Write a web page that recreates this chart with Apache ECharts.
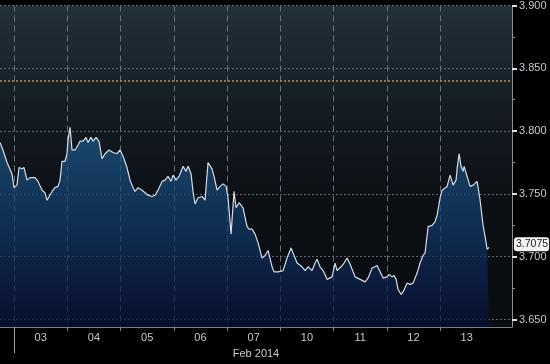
<!DOCTYPE html>
<html>
<head>
<meta charset="utf-8">
<script src="https://cdn.jsdelivr.net/npm/echarts@6/dist/echarts.min.js"></script>
<style>
html,body{margin:0;padding:0;background:#000;}
#chart{width:550px;height:364px;}
</style>
</head>
<body>
<div id="chart"></div>
<script>
// Trading-day position (0 = start of 03 Feb session) and exchange rate
const dayPos = [-0.263,-0.207,-0.131,-0.038,0.000,0.056,0.094,0.150,0.188,0.244,0.300,0.394,0.451,0.526,0.582,0.620,0.657,0.714,0.770,0.826,0.864,0.901,0.958,0.995,1.014,1.052,1.089,1.146,1.202,1.239,1.296,1.352,1.390,1.446,1.484,1.540,1.596,1.653,1.709,1.784,1.859,1.934,1.991,2.047,2.122,2.178,2.235,2.272,2.329,2.404,2.460,2.516,2.592,2.648,2.704,2.779,2.836,2.892,2.948,2.986,3.042,3.099,3.174,3.230,3.268,3.324,3.361,3.399,3.455,3.531,3.587,3.643,3.718,3.756,3.812,3.868,3.925,3.981,4.019,4.075,4.131,4.169,4.225,4.300,4.376,4.413,4.469,4.526,4.582,4.657,4.714,4.770,4.845,4.883,4.958,5.052,5.127,5.202,5.258,5.315,5.408,5.465,5.521,5.596,5.652,5.690,5.746,5.803,5.878,5.972,6.028,6.066,6.141,6.197,6.253,6.310,6.404,6.498,6.591,6.648,6.723,6.779,6.817,6.873,6.930,7.005,7.042,7.098,7.136,7.174,7.211,7.268,7.305,7.380,7.437,7.493,7.568,7.624,7.681,7.718,7.775,7.850,7.906,7.944,8.000,8.038,8.075,8.131,8.188,8.244,8.300,8.319,8.357,8.394,8.432,8.451,8.507,8.563,8.620,8.695,8.751,8.807,8.845,8.883,8.920];
const rate = [3.791,3.785,3.775,3.766,3.755,3.757,3.771,3.770,3.771,3.761,3.763,3.763,3.760,3.753,3.751,3.745,3.745,3.752,3.755,3.756,3.761,3.776,3.776,3.782,3.793,3.803,3.785,3.785,3.789,3.792,3.792,3.795,3.791,3.795,3.792,3.795,3.792,3.778,3.782,3.785,3.783,3.782,3.785,3.780,3.771,3.761,3.755,3.752,3.755,3.753,3.751,3.749,3.748,3.749,3.753,3.760,3.761,3.764,3.760,3.765,3.761,3.764,3.772,3.768,3.772,3.766,3.752,3.742,3.747,3.748,3.745,3.775,3.770,3.764,3.753,3.756,3.758,3.756,3.747,3.718,3.752,3.739,3.743,3.739,3.724,3.722,3.722,3.718,3.711,3.699,3.701,3.705,3.692,3.688,3.688,3.689,3.699,3.707,3.701,3.695,3.692,3.689,3.692,3.689,3.695,3.698,3.692,3.689,3.682,3.684,3.695,3.689,3.692,3.695,3.699,3.694,3.684,3.682,3.680,3.683,3.691,3.692,3.693,3.688,3.683,3.684,3.686,3.684,3.685,3.682,3.674,3.670,3.672,3.679,3.678,3.679,3.687,3.695,3.701,3.703,3.724,3.725,3.728,3.733,3.747,3.753,3.752,3.756,3.765,3.757,3.761,3.770,3.782,3.772,3.768,3.772,3.764,3.756,3.757,3.760,3.745,3.725,3.716,3.706,3.7075];

const dayLabels = ['03','04','05','06','07','10','11','12','13'];
const dayBounds = [0,1,2,3,4,5,6,7,8];
const dayCenters = [0.5,1.5,2.5,3.5,4.5,5.5,6.5,7.5,8.5];
const yTicks = [3.65,3.70,3.75,3.80,3.85,3.90];
const yMinorTicks = [3.675,3.725,3.775,3.825,3.875];
const refLevel = 3.84;
const lastPrice = 3.7075;
const periodLabel = 'Feb 2014';

const points = dayPos.map((d,i)=>[d, rate[i]]);
const xMin = -0.263, xMax = 9.35, yMin = 3.644, yMax = 3.9;
const font = 'Liberation Sans';

const chart = echarts.init(document.getElementById('chart'), null, {renderer:'canvas'});
chart.setOption({
  backgroundColor:'#000',
  animation:false,
  grid:{left:0,right:38,top:1,bottom:30,show:true,borderWidth:0,
    backgroundColor:new echarts.graphic.LinearGradient(0,0,0,1,[
      {offset:0,color:'#223039'},{offset:0.35,color:'#141b22'},{offset:0.6,color:'#0c1015'},{offset:1,color:'#090c10'}])},
  xAxis:[{
    type:'value',min:xMin,max:xMax,position:'bottom',
    axisLine:{show:true,onZero:false,lineStyle:{color:'#7a8088',width:1}},
    axisTick:{show:true,inside:false,customValues:dayBounds,length:4,lineStyle:{color:'#7a8088'}},
    axisLabel:{show:true,customValues:dayCenters,color:'#c4c8cc',fontSize:11,fontFamily:font,margin:5,
      formatter:v=>dayLabels[Math.floor(v)]},
    splitLine:{show:true,lineStyle:{color:'#66707a',type:[6,4],width:1}},
    name:periodLabel,nameLocation:'middle',nameGap:19,
    nameTextStyle:{color:'#c4c8cc',fontSize:11,fontFamily:font}
  },{
    type:'value',min:xMin,max:xMax,position:'bottom',offset:0,
    axisLine:{show:false,onZero:false},
    axisTick:{show:true,inside:false,customValues:[0],length:26,lineStyle:{color:'#9aa0a6'}},
    axisLabel:{show:false},splitLine:{show:false}
  }],
  yAxis:[{
    type:'value',position:'right',min:yMin,max:yMax,
    axisLine:{show:true,onZero:false,lineStyle:{color:'#8a9098',width:1}},
    axisTick:{show:true,inside:false,customValues:yTicks,length:5,lineStyle:{color:'#e0e0e0',width:2}},
    axisLabel:{show:true,customValues:yTicks,color:'#c4c8cc',fontSize:11,fontFamily:font,margin:7,
      formatter:v=>v.toFixed(3)},
    splitLine:{show:true,lineStyle:{color:'#5c6670',type:[2,2],width:1}}
  },{
    type:'value',position:'right',offset:0,min:yMin,max:yMax,
    axisLine:{show:false,onZero:false},
    axisTick:{show:true,inside:false,customValues:yMinorTicks,length:3,lineStyle:{color:'#8a9098'}},
    axisLabel:{show:false},splitLine:{show:false}
  }],
  series:[{
    type:'line',data:points,xAxisIndex:0,yAxisIndex:0,
    showSymbol:false,symbol:'none',
    lineStyle:{color:'#d6dbe0',width:1.2},
    areaStyle:{origin:'start',color:new echarts.graphic.LinearGradient(0,0,0,1,[
      {offset:0,color:'#1d5e8f'},{offset:0.5,color:'#103a6a'},{offset:1,color:'#060e3a'}])},
    markLine:{
      silent:true,symbol:'none',animation:false,
      data:[
        {yAxis:refLevel,lineStyle:{color:'#d08a3a',type:[2,2],width:1.5},label:{show:false}},
        {yAxis:lastPrice,lineStyle:{color:'rgba(0,0,0,0)',width:0},
          label:{show:true,position:'end',distance:2,formatter:String(lastPrice),
            backgroundColor:'#f2f2f2',color:'#1a1a1a',fontSize:10.5,fontFamily:font,
            padding:[2,1,1,2],borderRadius:3}}
      ]
    }
  }]
});
</script>
</body>
</html>
